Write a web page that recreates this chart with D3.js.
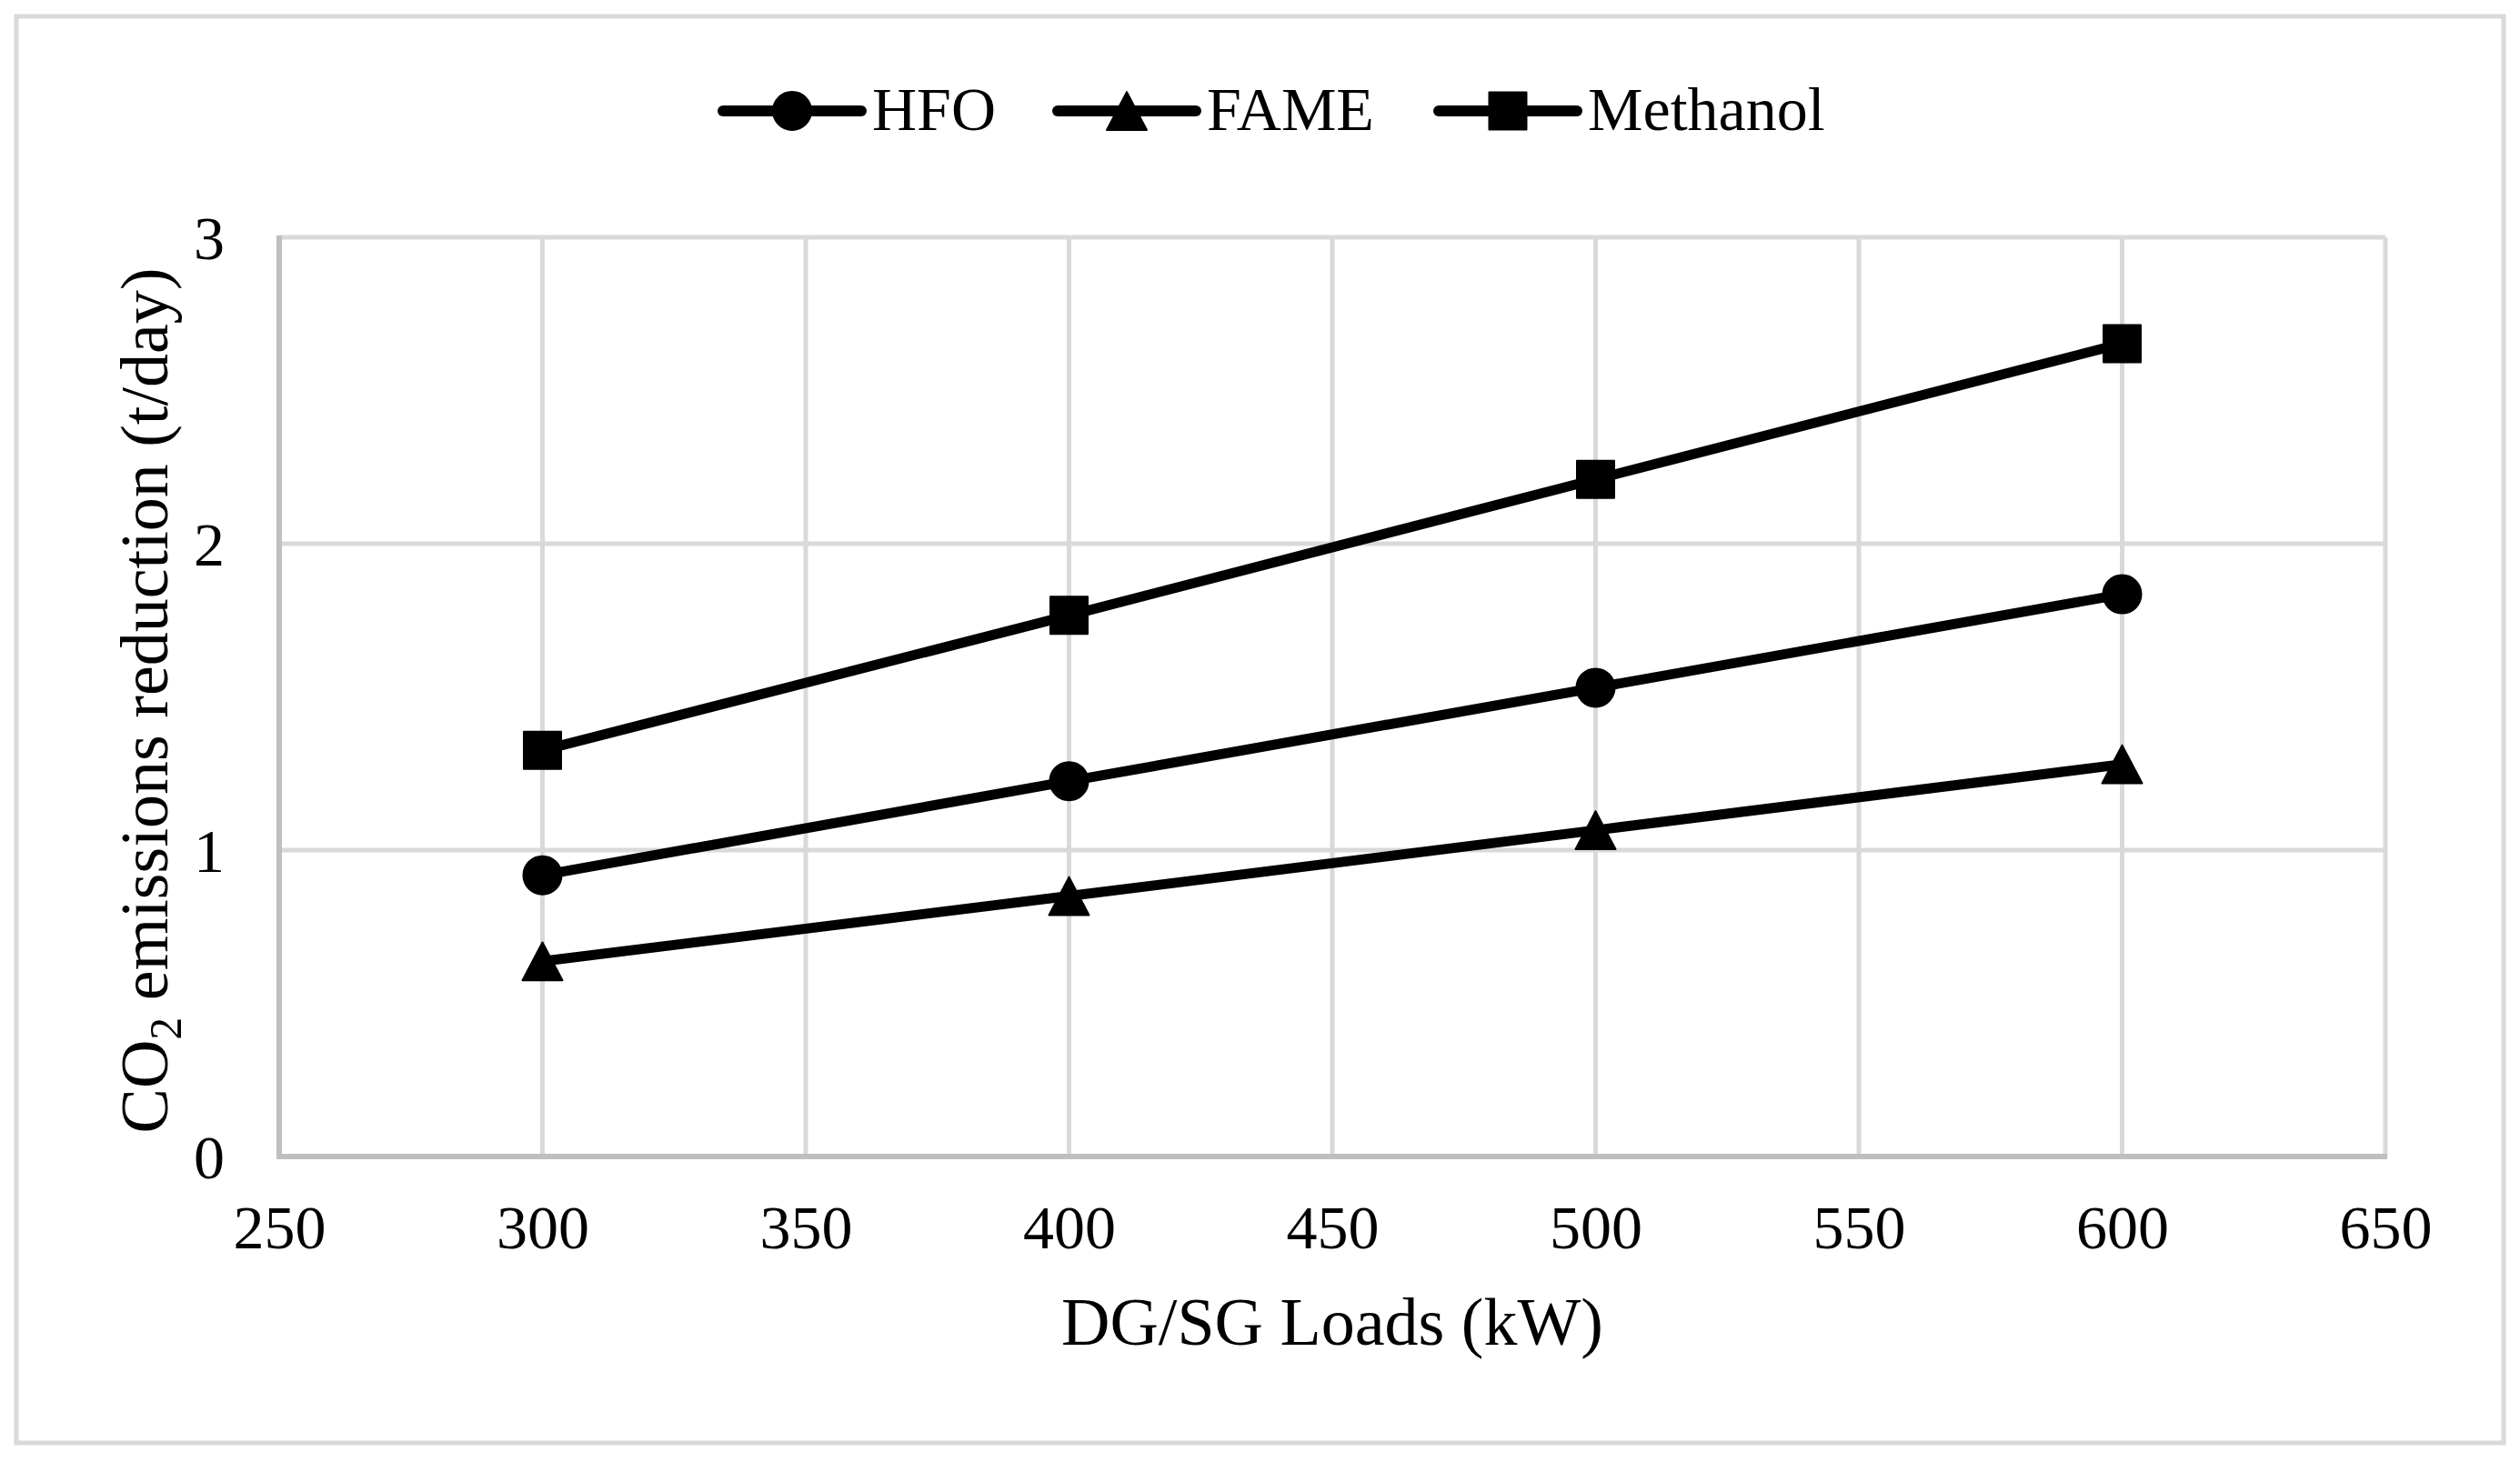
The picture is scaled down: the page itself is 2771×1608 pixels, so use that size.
<!DOCTYPE html>
<html>
<head>
<meta charset="utf-8">
<script src="https://cdn.jsdelivr.net/npm/d3@7"></script>
<style>
  body { margin: 0; background: #fff; }
  text { font-family: "Liberation Serif", "Times New Roman", serif; fill: #000; }
</style>
</head>
<body>
<svg id="chart"></svg>
<script>
const loads = [300, 400, 500, 600];
const hfo = [0.918, 1.225, 1.53, 1.835];
const fame = [0.637, 0.85, 1.065, 1.28];
const methanol = [1.326, 1.766, 2.21, 2.653];
const xTicks = [250, 300, 350, 400, 450, 500, 550, 600, 650];
const yTicks = [0, 1, 2, 3];

const width = 2771, height = 1608;
const margin = { left: 307, right: 2771 - 2623, top: 261, bottom: 1608 - 1272 };

const svg = d3.select("#chart").attr("width", width).attr("height", height);

// outer chart border
svg.append("rect")
  .attr("x", 18).attr("y", 18)
  .attr("width", 2735).attr("height", 1569)
  .attr("fill", "#fff").attr("stroke", "#d9d9d9").attr("stroke-width", 5);

const x = d3.scaleLinear().domain([250, 650]).range([margin.left, width - margin.right]);
const y = d3.scaleLinear().domain([0, 3]).range([height - margin.bottom, margin.top]);

// gridlines
svg.append("g")
  .selectAll("line.v")
  .data(xTicks.slice(1))
  .join("line")
  .attr("x1", d => x(d)).attr("x2", d => x(d))
  .attr("y1", y(0)).attr("y2", y(3))
  .attr("stroke", "#d9d9d9").attr("stroke-width", 5);

svg.append("g")
  .selectAll("line.h")
  .data(yTicks.slice(1))
  .join("line")
  .attr("x1", x(250)).attr("x2", x(650))
  .attr("y1", d => y(d)).attr("y2", d => y(d))
  .attr("stroke", "#d9d9d9").attr("stroke-width", 5);

// axis lines (left and bottom)
svg.append("line")
  .attr("x1", x(250)).attr("x2", x(250))
  .attr("y1", y(0) + 3).attr("y2", y(3) - 2)
  .attr("stroke", "#bfbfbf").attr("stroke-width", 6);
svg.append("line")
  .attr("x1", x(250) - 3).attr("x2", x(650) + 2)
  .attr("y1", y(0)).attr("y2", y(0))
  .attr("stroke", "#bfbfbf").attr("stroke-width", 6);

// tick labels via axes
const xAxis = svg.append("g")
  .attr("transform", `translate(0,${y(0)})`)
  .call(d3.axisBottom(x).tickValues(xTicks).tickSize(0).tickPadding(0).tickFormat(d3.format("d")));
xAxis.select(".domain").remove();
xAxis.selectAll("text")
  .attr("dy", null).attr("y", 101)
  .style("font-family", "Liberation Serif").style("font-size", "68px").attr("fill", "#000");

const yAxis = svg.append("g")
  .attr("transform", `translate(${x(250)},0)`)
  .call(d3.axisLeft(y).tickValues(yTicks).tickSize(0).tickPadding(60).tickFormat(d3.format("d")));
yAxis.select(".domain").remove();
yAxis.selectAll("text")
  .attr("dy", "0.34em")
  .style("font-family", "Liberation Serif").style("font-size", "68px").attr("fill", "#000");

// axis titles
svg.append("text")
  .attr("x", (x(250) + x(650)) / 2).attr("y", 1479)
  .attr("text-anchor", "middle")
  .style("font-size", "74px")
  .text("DG/SG Loads (kW)");

const yTitle = svg.append("text")
  .attr("transform", `translate(184,${(y(0) + y(3)) / 2 + 4}) rotate(-90)`)
  .attr("text-anchor", "middle")
  .style("font-size", "74px");
yTitle.append("tspan").text("CO");
yTitle.append("tspan").attr("dy", 15).style("font-size", "50px").text("2");
yTitle.append("tspan").attr("dy", -15).text(" emissions reduction (t/day)");

// marker shapes
const triangle = {
  draw(ctx, size) {
    const w = Math.sqrt(size), h = w * 0.95;
    ctx.moveTo(0, -h / 2);
    ctx.lineTo(w / 2, h / 2);
    ctx.lineTo(-w / 2, h / 2);
    ctx.closePath();
  }
};

const series = [
  { name: "HFO", values: hfo, symbol: d3.symbolCircle, size: Math.PI * 21 * 21, legendX: 795 },
  { name: "FAME", values: fame, symbol: triangle, size: 44 * 44, legendX: 1163 },
  { name: "Methanol", values: methanol, symbol: d3.symbolSquare, size: 41 * 41, legendX: 1582 }
];

const line = d3.line().x(d => x(d[0])).y(d => y(d[1]));

series.forEach(s => {
  const pts = loads.map((l, i) => [l, s.values[i]]);
  svg.append("path")
    .datum(pts)
    .attr("d", line)
    .attr("fill", "none").attr("stroke", "#000")
    .attr("stroke-width", 11).attr("stroke-linejoin", "round").attr("stroke-linecap", "round");

  svg.append("g")
    .selectAll("path")
    .data(pts)
    .join("path")
    .attr("transform", d => `translate(${x(d[0])},${y(d[1])})`)
    .attr("d", d3.symbol().type(s.symbol).size(s.size))
    .attr("fill", "#000").attr("stroke", "#000").attr("stroke-width", 2).attr("stroke-linejoin", "round");
});

// legend
const legend = svg.append("g");
series.forEach(s => {
  const g = legend.append("g").attr("transform", `translate(${s.legendX},122)`);
  g.append("line")
    .attr("x1", 0).attr("x2", 152)
    .attr("stroke", "#000").attr("stroke-width", 12).attr("stroke-linecap", "round");
  g.append("path")
    .attr("transform", "translate(76,0)")
    .attr("d", d3.symbol().type(s.symbol).size(s.size))
    .attr("fill", "#000").attr("stroke", "#000").attr("stroke-width", 2).attr("stroke-linejoin", "round");
  g.append("text")
    .attr("x", 164).attr("y", 21)
    .style("font-size", "68px")
    .text(s.name);
});
</script>
</body>
</html>
